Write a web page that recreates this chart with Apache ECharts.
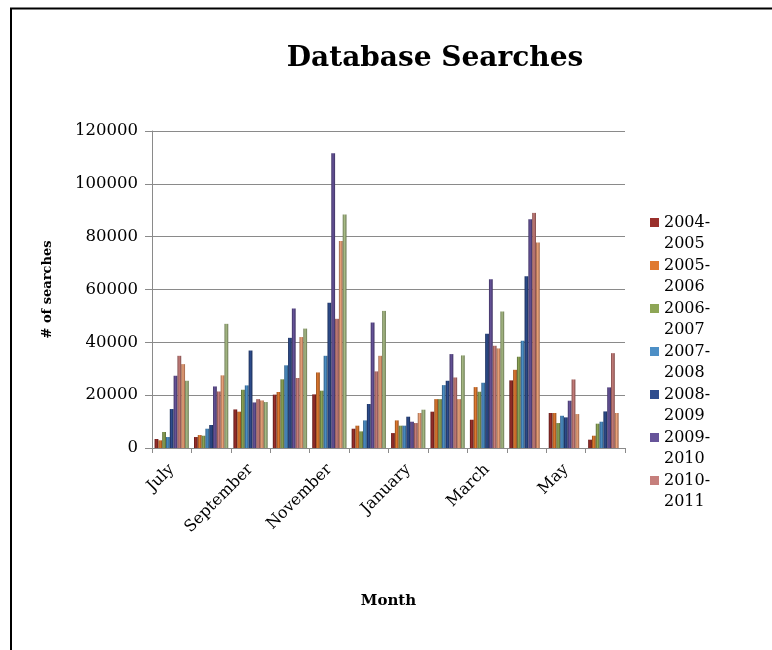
<!DOCTYPE html>
<html>
<head>
<meta charset="utf-8">
<script src="https://cdn.jsdelivr.net/npm/echarts@6/dist/echarts.min.js"></script>
<style>
html,body{margin:0;padding:0;background:#fff;}
#chart{width:772px;height:650px;}
</style>
</head>
<body>
<div id="chart"></div>
<script>
var months = ['July','August','September','October','November','December','January','February','March','April','May','June'];
var seriesNames = ['2004-2005','2005-2006','2006-2007','2007-2008','2008-2009','2009-2010','2010-2011','2011-2012','2012-2013'];
var s2004 = [3400, 4150, 14600, 20200, 20300, 7300, 5650, 13750, 10700, 25600, 13250, 3150];
var s2005 = [2900, 4900, 13750, 21200, 28600, 8450, 10450, 18500, 23050, 29600, 13250, 4650];
var s2006 = [6050, 4650, 22050, 26000, 21700, 6300, 8450, 18500, 21300, 34550, 9450, 9200];
var s2007 = [4150, 7300, 23700, 31300, 34900, 10450, 8450, 23800, 24700, 40600, 12200, 9950];
var s2008 = [14750, 8700, 36900, 41700, 54950, 16650, 11850, 25450, 43250, 65050, 11600, 13850];
var s2009 = [27350, 23300, 17250, 52800, 111550, 47500, 9950, 35550, 63900, 86600, 17900, 22950];
var s2010 = [34900, 21400, 18500, 26500, 48900, 29000, 9450, 26700, 38700, 89000, 25950, 35900];
var s2011 = [31750, 27500, 18000, 42000, 78400, 34900, 13250, 18500, 37700, 77800, 12850, 13250];
var s2012 = [25450, 47000, 17400, 45200, 88350, 51900, 14500, 35050, 51700, null, null, null];
var allData = [s2004, s2005, s2006, s2007, s2008, s2009, s2010, s2011, s2012];
var legendNames = seriesNames.slice(0, 7);
var yTicks = [0, 20000, 40000, 60000, 80000, 100000, 120000];

var colors = ['#9a2f2b','#e07a30','#8ea656','#4d8fc6','#2e4d8e','#67549a','#c67f7c','#eba47c','#a9bc87'];
var edges  = ['#5e1a18','#8f4a1a','#566636','#2d5a80','#1a2d56','#3e3262','#7e4a48','#9a6246','#6a7852'];

var serif = '"DejaVu Serif", "Liberation Serif", serif';

var series = allData.map(function (d, i) {
  return {
    name: seriesNames[i],
    type: 'bar',
    data: d,
    barGap: '0%',
    barCategoryGap: '13%',
    itemStyle: {
      color: new echarts.graphic.LinearGradient(0, 0, 1, 0, [
        {offset: 0, color: edges[i]},
        {offset: 0.45, color: colors[i]},
        {offset: 1, color: edges[i]}
      ])
    },
    emphasis: {disabled: true}
  };
});

// legend marker: square on the first text line; tiny invisible corners stretch the box to two lines
var legendIcon = 'path://M0,0L0.01,0L0,0.01Z M0,6L9,6L9,15L0,15Z M9,42L8.99,42L9,41.99Z';

var chart = echarts.init(document.getElementById('chart'), null, {renderer: 'canvas'});
chart.setOption({
  animation: false,
  color: colors,
  title: {
    text: 'Database Searches',
    left: 430,
    textAlign: 'center',
    top: 40,
    textStyle: {fontFamily: serif, fontSize: 28, fontWeight: 'bold', color: '#000'}
  },
  legend: {
    data: legendNames.map(function (n, i) {
      return {name: n, icon: legendIcon, itemStyle: {color: colors[i], borderColor: edges[i], borderWidth: 0}};
    }),
    orient: 'vertical',
    left: 645,
    top: 207,
    itemWidth: 9,
    itemHeight: 42,
    itemGap: 1,
    formatter: function (n) { return n.replace('-', '-\n'); },
    textStyle: {fontFamily: serif, fontSize: 16, color: '#000', lineHeight: 21}
  },
  grid: {left: 152, right: 147, top: 131, bottom: 202, containLabel: false},
  xAxis: {
    type: 'category',
    data: months,
    name: 'Month',
    nameLocation: 'middle',
    nameGap: 146,
    nameTextStyle: {fontFamily: serif, fontSize: 15, fontWeight: 'bold', color: '#000'},
    axisLine: {lineStyle: {color: '#8a8a8a', width: 1}},
    axisTick: {show: true, interval: 0, length: 5, lineStyle: {color: '#8a8a8a'}},
    axisLabel: {interval: 1, rotate: 45, fontFamily: serif, fontSize: 16, color: '#000', margin: 19}
  },
  yAxis: {
    type: 'value',
    min: yTicks[0],
    max: yTicks[yTicks.length - 1],
    interval: yTicks[1] - yTicks[0],
    name: '# of searches',
    nameLocation: 'middle',
    nameRotate: 90,
    nameGap: 98,
    nameTextStyle: {fontFamily: serif, fontSize: 13, fontWeight: 'bold', color: '#000'},
    axisLine: {show: true, lineStyle: {color: '#8a8a8a', width: 1}},
    axisTick: {show: true, length: 7, lineStyle: {color: '#8a8a8a'}},
    splitLine: {show: true, lineStyle: {color: '#8a8a8a', width: 1}},
    axisLabel: {fontFamily: serif, fontSize: 16.5, color: '#000', margin: 14, formatter: function (v) { return String(v); }}
  },
  graphic: [{
    type: 'rect',
    silent: true,
    shape: {x: 11, y: 8.5, width: 900, height: 900},
    style: {fill: null, stroke: '#000', lineWidth: 2}
  }],
  series: series
});
</script>
</body>
</html>
